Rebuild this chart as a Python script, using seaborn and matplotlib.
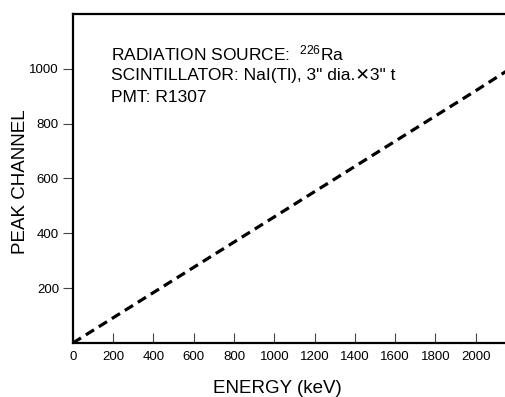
import seaborn as sns
import matplotlib.pyplot as plt
import pandas as pd

# values
energy_kev = [0, 500, 1000, 1500, 2000, 2160]
peak_channel = [0, 230, 460, 690, 920, 995]
x_ticks = [0, 200, 400, 600, 800, 1000, 1200, 1400, 1600, 1800, 2000]
y_ticks = [200, 400, 600, 800, 1000]
info_lines = ['RADIATION SOURCE:  $^{226}$Ra',
              'SCINTILLATOR: NaI(Tl), 3" dia.\u27153" t',
              'PMT: R1307']

sns.set_style("ticks")
plt.rcParams['font.family'] = ['Liberation Sans', 'DejaVu Sans']
plt.rcParams['mathtext.fontset'] = 'custom'
plt.rcParams['mathtext.rm'] = 'Liberation Sans'
plt.rcParams['mathtext.default'] = 'regular'
plt.rcParams['text.color'] = 'black'
plt.rcParams['axes.labelcolor'] = 'black'
plt.rcParams['xtick.labelcolor'] = 'black'
plt.rcParams['ytick.labelcolor'] = 'black'

df = pd.DataFrame({'energy': energy_kev, 'channel': peak_channel})

fig = plt.figure(figsize=(5.06, 3.97), dpi=100)
ax = fig.add_axes([0.144, 0.136, 0.86, 0.829])

sns.lineplot(data=df, x='energy', y='channel', ax=ax, color='black',
             linewidth=2.3, dashes=False)
ax.lines[0].set_dashes((3.0, 1.8))

ax.set_xlim(0, 2160)
ax.set_ylim(0, 1200)
ax.set_xticks(x_ticks)
ax.set_yticks(y_ticks)
ax.tick_params(axis='x', direction='in', length=7, width=0.8, labelsize=9.5, pad=6, color='#444444')
ax.tick_params(axis='y', direction='out', length=7, width=0.8, labelsize=9.5, pad=3, color='#444444')

for side in ['left', 'top', 'bottom']:
    ax.spines[side].set_linewidth(1.6)
    ax.spines[side].set_color('black')
ax.spines['right'].set_visible(False)

ax.set_xlabel('ENERGY (keV)', fontsize=13.5, va='center')
ax.set_ylabel('PEAK CHANNEL', fontsize=13.5, va='center')
ax.xaxis.set_label_coords(0.47, -0.137)
ax.yaxis.set_label_coords(-0.12, 0.49)

for i, line in enumerate(info_lines):
    ax.text(0.087, 0.881 - i * 0.067, line, transform=ax.transAxes,
            fontsize=12.5, va='center', ha='left')

fig.savefig('out.png', dpi=100)
